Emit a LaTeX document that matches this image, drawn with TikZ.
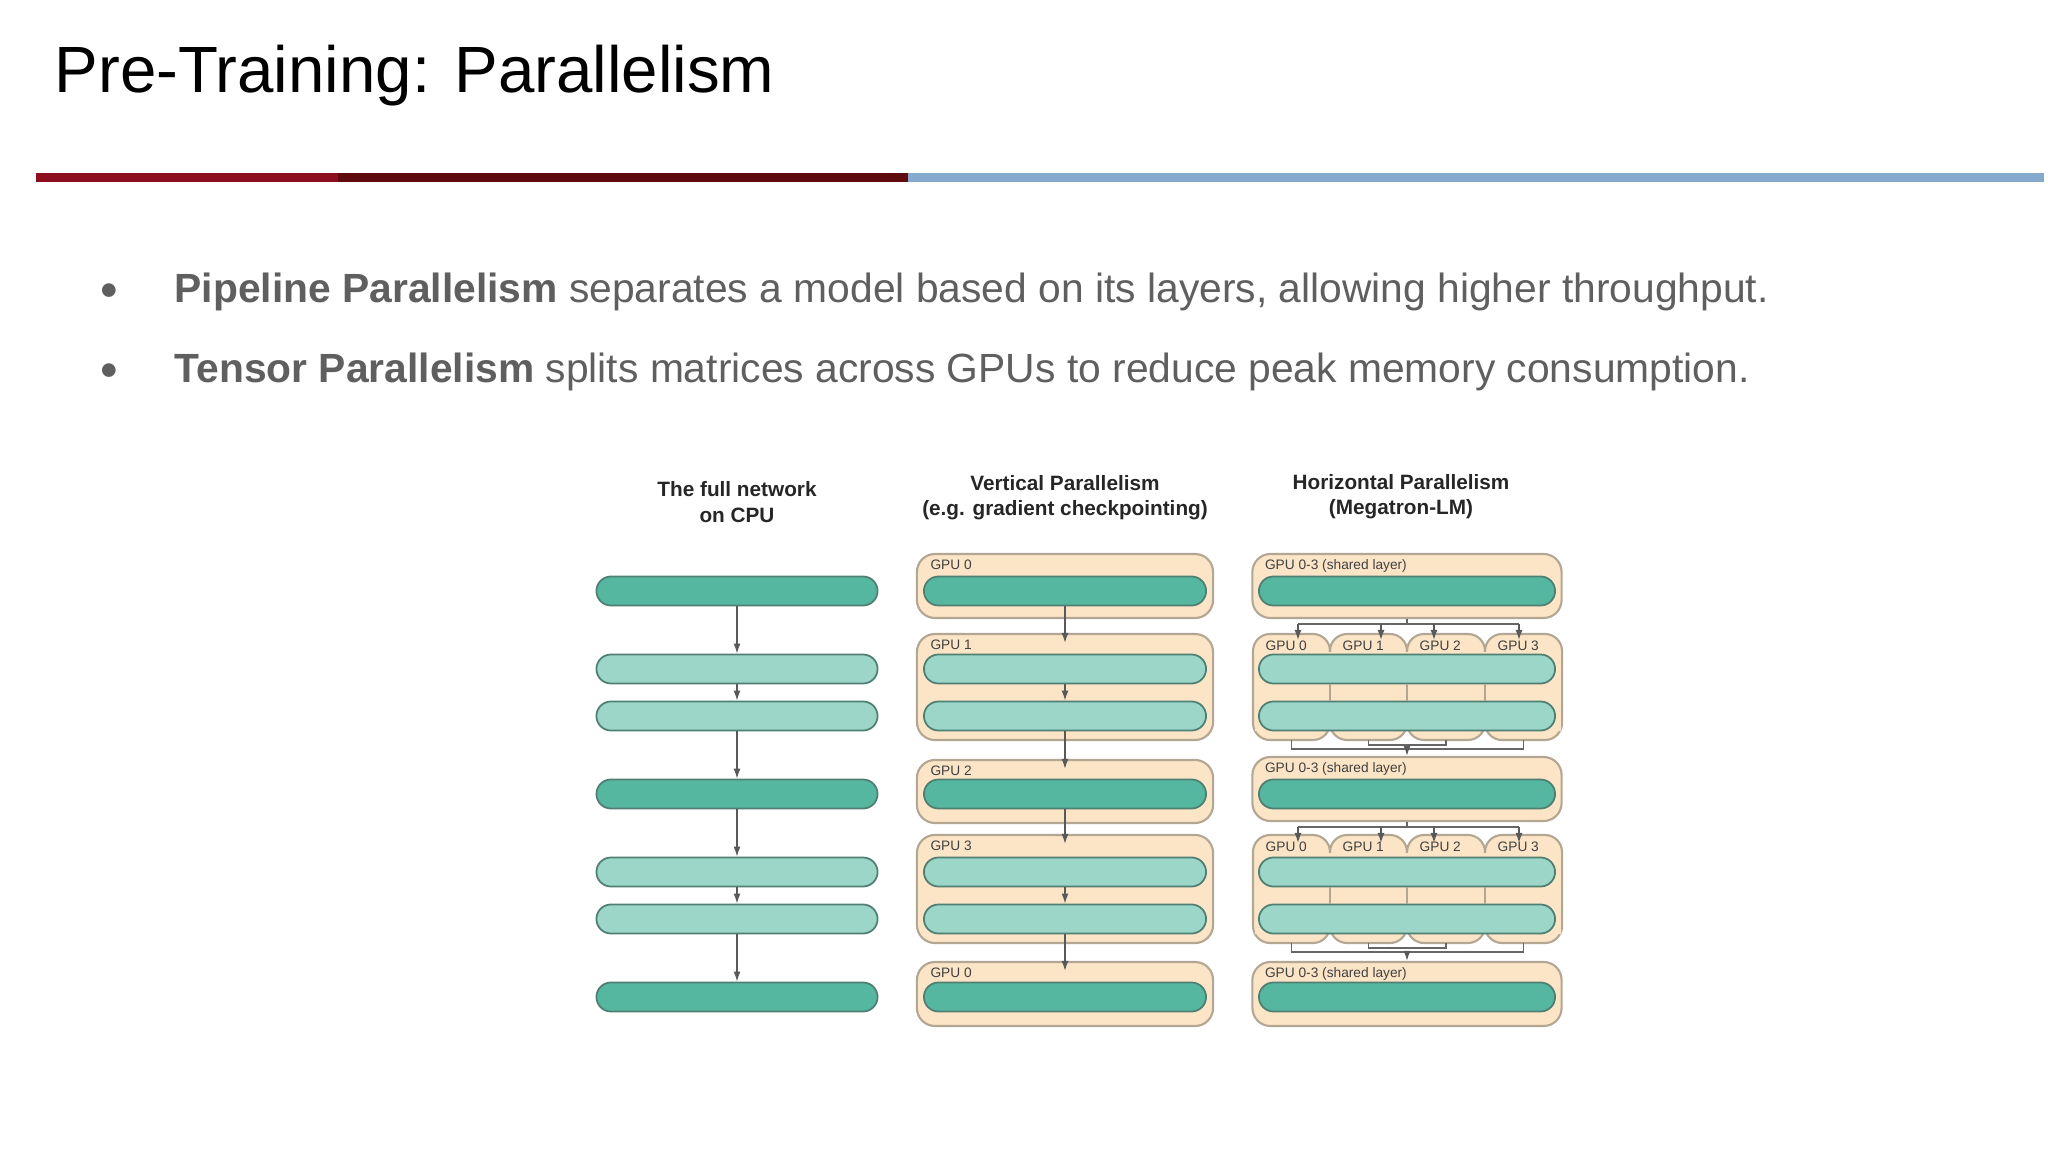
\documentclass[tikz,border=0pt]{standalone}
\usepackage{fontspec}
\setmainfont{Liberation Sans}
\usetikzlibrary{shapes.misc,arrows.meta,calc}
\definecolor{tdark}{HTML}{55B79F}
\definecolor{tlight}{HTML}{9BD6C8}
\definecolor{tbord}{HTML}{4F7F73}
\definecolor{cfill}{HTML}{FCE5C6}
\definecolor{cbord}{HTML}{B3A692}
\definecolor{txt}{HTML}{5F5F5F}
\definecolor{redA}{HTML}{8C1020}
\definecolor{redB}{HTML}{5E0A0E}
\definecolor{blueA}{HTML}{86AACD}
\tikzset{
 bardark/.style={rounded rectangle,draw=tbord,fill=tdark,line width=0.5pt,minimum height=0.29cm,inner sep=0pt},
 barlight/.style={rounded rectangle,draw=tbord,fill=tlight,line width=0.5pt,minimum height=0.29cm,inner sep=0pt},
 cont/.style={rectangle,rounded corners=0.18cm,draw=cbord,fill=cfill,line width=0.6pt,inner sep=0pt},
 gpul/.style={font=\fontsize{3.9pt}{4pt}\selectfont,text=black!75,anchor=north west,inner sep=0pt},
 hdr/.style={font=\bfseries\fontsize{5.9pt}{7.2pt}\selectfont,align=center,text=black!85},
 arr/.style={draw=black!65,line width=0.4pt,-{Latex[length=0.1cm,width=0.07cm]}},
 ln/.style={draw=black!60,line width=0.4pt},
}
\begin{document}
\begin{tikzpicture}[x=0.01cm,y=-0.01cm]
\useasboundingbox (0,0) rectangle (2048,1152);
\fill[white] (0,0) rectangle (2048,1152);
\node[anchor=west,font=\fontsize{18.6pt}{20pt}\selectfont,inner sep=0pt] (title) at (54,76) {Pre-Training: Parallelism};
\fill[redA] (36,173) rectangle (338,182);
\fill[redB] (338,173) rectangle (908,182);
\fill[blueA] (908,173) rectangle (2044,182);
\node[anchor=west,text=txt,font=\fontsize{11.6pt}{12pt}\selectfont,inner sep=0pt] (b1) at (174,292) {\textbf{Pipeline Parallelism} separates a model based on its layers, allowing higher throughput.};
\node[anchor=west,text=txt,font=\fontsize{11.6pt}{12pt}\selectfont,inner sep=0pt] (b2) at (174,372) {\textbf{Tensor Parallelism} splits matrices across GPUs to reduce peak memory consumption.};
\node[text=txt,font=\fontsize{9pt}{10pt}\selectfont] (d1) at (109,292) {●};
\node[text=txt,font=\fontsize{9pt}{10pt}\selectfont] (d2) at (109,372) {●};
% headers
\node[hdr] (h1) at (737,502) {The full network\\on CPU};
\node[hdr] (h2) at (1065,498) {Vertical Parallelism\\(e.g. gradient checkpointing)};
\node[hdr] (h3) at (1401,497) {Horizontal Parallelism\\(Megatron-LM)};
% column 1
\foreach \n/\y/\s in {1/591/bardark,2/669/barlight,3/716/barlight,4/794/bardark,5/872/barlight,6/919/barlight,7/997/bardark}
  \node[\s,minimum width=2.81cm] (a\n) at (737,\y) {};
\foreach \i/\j in {1/2,2/3,3/4,4/5,5/6,6/7} \draw[arr] (a\i.south) -- (a\j.north);
% column 2
\node[cont,minimum width=2.96cm,minimum height=0.64cm] (c1) at (1065,586) {};
\node[cont,minimum width=2.96cm,minimum height=1.06cm] (c2) at (1065,687) {};
\node[cont,minimum width=2.96cm,minimum height=0.63cm] (c3) at (1065,791.5) {};
\node[cont,minimum width=2.96cm,minimum height=1.08cm] (c4) at (1065,889) {};
\node[cont,minimum width=2.96cm,minimum height=0.64cm] (c5) at (1065,994) {};
\foreach \n/\t in {1/GPU 0,2/GPU 1,3/GPU 2,4/GPU 3,5/GPU 0}
  \node[gpul] at ($(c\n.north west)+(14,6)$) {\t};
\foreach \n/\y/\s in {1/591/bardark,2/669/barlight,3/716/barlight,4/794/bardark,5/872/barlight,6/919/barlight,7/997/bardark}
  \node[\s,minimum width=2.82cm] (v\n) at (1065,\y) {};
\draw[arr] (v1.south) -- ($(c2.north)+(0,10)$);
\draw[arr] (v2.south) -- (v3.north);
\draw[arr] (v3.south) -- ($(c3.north)+(0,10)$);
\draw[arr] (v4.south) -- ($(c4.north)+(0,10)$);
\draw[arr] (v5.south) -- (v6.north);
\draw[arr] (v6.south) -- ($(c5.north)+(0,10)$);
% column 3
\node[cont,minimum width=3.09cm,minimum height=0.64cm] (s1) at (1407,586) {};
\node[cont,minimum width=3.09cm,minimum height=0.64cm] (s2) at (1407,789) {};
\node[cont,minimum width=3.09cm,minimum height=0.64cm] (s3) at (1407,994) {};
\foreach \n in {1,2,3} \node[gpul] at ($(s\n.north west)+(13,6)$) {GPU 0-3 (shared layer)};
\foreach \b/\top/\bot in {p/634/740,q/835/943}{
  \foreach \k/\xa/\xb/\t in {0/1253/1330/GPU 0,1/1330/1407/GPU 1,2/1407/1485/GPU 2,3/1485/1562/GPU 3}{
    \draw[cbord,fill=cfill,line width=0.6pt,rounded corners=0.17cm] (\xa,\top) rectangle (\xb,\bot);
    \coordinate (\b\k t) at ({(\xa+\xb)/2},\top);
    \coordinate (\b\k b) at ({(\xa+\xb)/2},\bot);
    \node[gpul] at (\xa+12,\top+6) {\t};
  }
  \fill[cfill] (1254.5,\top+18) rectangle (1560.5,\bot-9);
}
\foreach \n/\y/\s in {1/591/bardark,4/794/bardark,7/997/bardark}
  \node[\s,minimum width=2.96cm] (h\n) at (1407,\y) {};
\foreach \n/\y in {2/669,3/716,5/872,6/919}
  \node[barlight,minimum width=2.96cm] (h\n) at (1407,\y) {};
\foreach \xx in {1330,1407,1485}{
  \draw[cbord,line width=0.6pt] (\xx,684) -- (\xx,701);
  \draw[cbord,line width=0.6pt] (\xx,887) -- (\xx,904);
}
% split arrows
\foreach \s/\b/\yy in {s1/p/624,s2/q/827}{
  \draw[ln] (\s.south) -- (1407,\yy);
  \draw[ln] (1298,\yy) -- (1519,\yy);
  \foreach \xx in {1298,1381,1434,1519}
    \draw[arr] (\xx,\yy) -- (\xx,\yy+16);
}
% merge arrows
\draw[ln] (p0b) -- ++(0,9) -| (p3b);
\draw[ln] (p1b) -- ++(0,5) -| (p2b);
\draw[arr] (1407,749) -- (s2.north);
\draw[ln] (q0b) -- ++(0,9) -| (q3b);
\draw[ln] (q1b) -- ++(0,5) -| (q2b);
\draw[arr] (1407,952) -- (s3.north);
\end{tikzpicture}
\end{document}
